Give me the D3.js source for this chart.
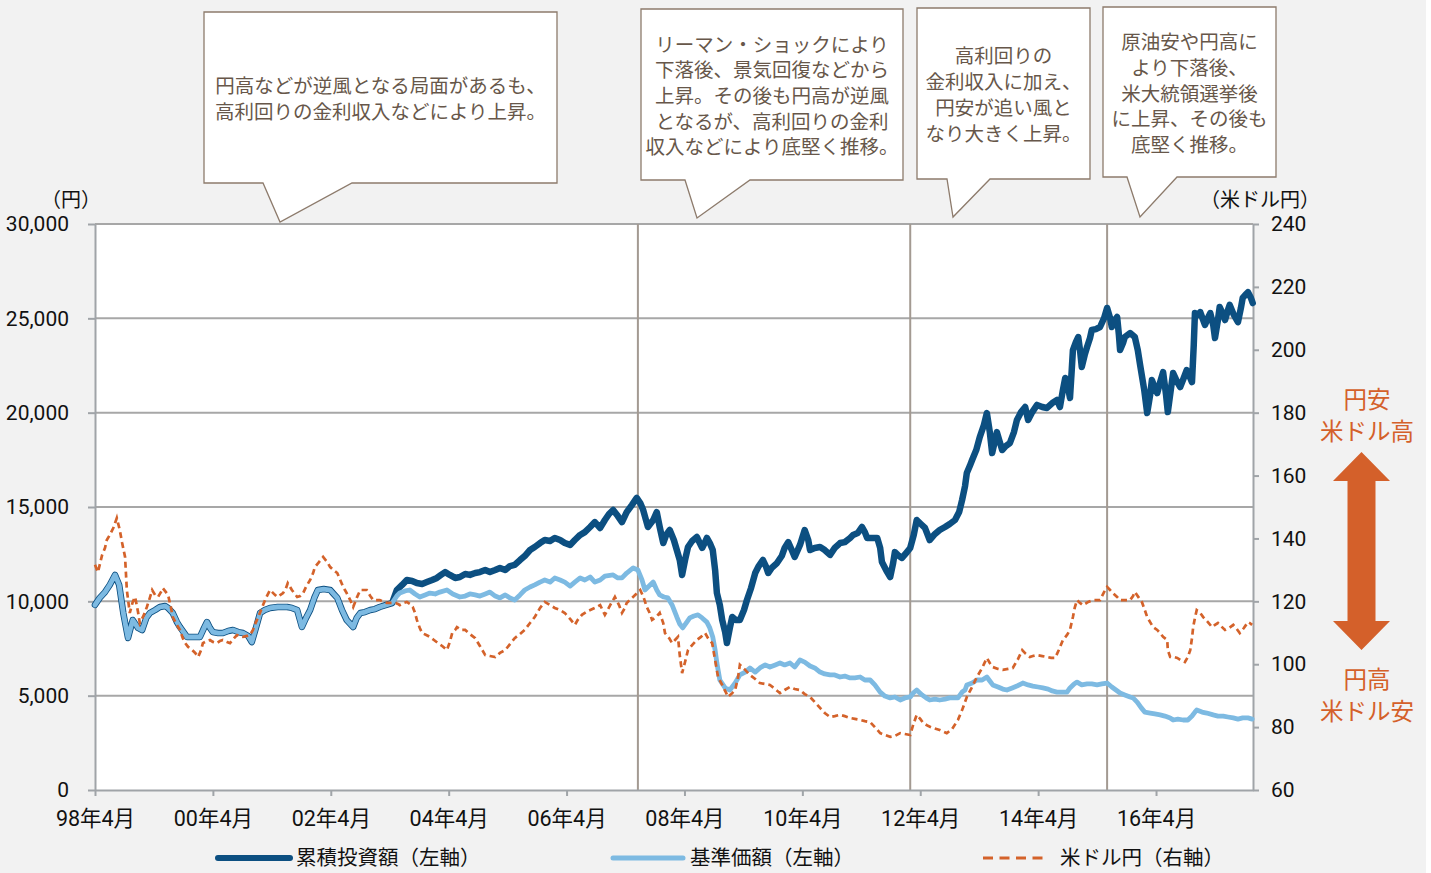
<!DOCTYPE html>
<html><head><meta charset="utf-8">
<script src="https://cdn.jsdelivr.net/npm/d3@7"></script>
<style>
html,body{margin:0;padding:0;background:#fff;}
svg{display:block;}
text{font-family:Roboto,"Noto Sans CJK JP",sans-serif;}
</style></head><body>
<svg id="chart" width="1431" height="873"></svg>
<script>
// ---------- DATA (time in decimal years, values in yen / yen per dollar) ----------
// 累積投資額 and 基準価額 coincide until 2003
const earlyShared = [[1998.25,9810],[1998.33,10180],[1998.42,10490],[1998.50,10870],[1998.59,11400],[1998.66,10870],[1998.73,9380],[1998.81,8060],[1998.89,9010],[1998.98,8590],[1999.05,8480],[1999.12,9120],[1999.18,9380],[1999.27,9540],[1999.35,9700],[1999.44,9750],[1999.49,9650],[1999.57,9380],[1999.64,8900],[1999.69,8640],[1999.81,8110],[1999.95,8110],[2000.03,8110],[2000.10,8590],[2000.15,8900],[2000.20,8590],[2000.25,8370],[2000.34,8320],[2000.42,8320],[2000.51,8430],[2000.59,8480],[2000.68,8370],[2000.76,8320],[2000.85,8160],[2000.91,7840],[2000.98,8590],[2001.05,9380],[2001.13,9540],[2001.22,9650],[2001.35,9700],[2001.51,9700],[2001.59,9650],[2001.68,9540],[2001.76,8640],[2001.83,9120],[2001.90,9540],[2001.97,10180],[2002.03,10600],[2002.13,10650],[2002.24,10600],[2002.30,10390],[2002.36,10180],[2002.44,9540],[2002.52,9010],[2002.63,8640],[2002.69,9120],[2002.75,9380],[2002.83,9430],[2002.92,9540],[2003.00,9590],[2003.08,9700],[2003.19,9810],[2003.29,9910]];

const cumulativeLater = [[2003.37,10600],[2003.46,10870],[2003.54,11130],[2003.63,11080],[2003.71,10970],[2003.80,10920],[2003.88,11020],[2003.97,11130],[2004.05,11240],[2004.12,11400],[2004.19,11550],[2004.27,11400],[2004.36,11240],[2004.44,11290],[2004.53,11450],[2004.61,11400],[2004.70,11500],[2004.78,11550],[2004.87,11660],[2004.95,11550],[2005.04,11660],[2005.12,11770],[2005.21,11660],[2005.29,11870],[2005.37,11930],[2005.46,12190],[2005.54,12400],[2005.63,12720],[2005.71,12880],[2005.80,13090],[2005.88,13250],[2005.97,13200],[2006.05,13360],[2006.14,13250],[2006.22,13090],[2006.31,12990],[2006.39,13250],[2006.48,13520],[2006.56,13670],[2006.65,13940],[2006.73,14200],[2006.82,13890],[2006.90,14310],[2006.97,14630],[2007.04,14840],[2007.12,14520],[2007.19,14200],[2007.27,14730],[2007.36,15110],[2007.44,15480],[2007.50,15210],[2007.55,14840],[2007.63,13940],[2007.72,14310],[2007.78,14730],[2007.83,13940],[2007.89,13090],[2007.94,13520],[2008.00,13780],[2008.07,13250],[2008.12,12720],[2008.17,12190],[2008.21,11400],[2008.26,12190],[2008.31,12880],[2008.38,13200],[2008.46,13410],[2008.55,12830],[2008.60,13140],[2008.63,13360],[2008.68,13090],[2008.73,12720],[2008.77,11660],[2008.80,10440],[2008.85,9810],[2008.89,9010],[2008.94,8370],[2008.97,7790],[2009.02,8590],[2009.06,9170],[2009.12,9010],[2009.19,9010],[2009.26,9540],[2009.31,10070],[2009.38,10710],[2009.45,11500],[2009.51,11870],[2009.58,12190],[2009.63,11870],[2009.67,11500],[2009.73,11770],[2009.82,12030],[2009.90,12400],[2009.95,12830],[2010.01,13140],[2010.07,12720],[2010.12,12350],[2010.21,12990],[2010.29,13780],[2010.35,13250],[2010.38,12720],[2010.46,12830],[2010.55,12880],[2010.63,12720],[2010.72,12460],[2010.80,12830],[2010.89,13090],[2010.97,13140],[2011.06,13360],[2011.11,13520],[2011.19,13620],[2011.26,13940],[2011.31,13670],[2011.35,13360],[2011.43,13360],[2011.52,13360],[2011.57,12830],[2011.60,12080],[2011.67,11660],[2011.74,11290],[2011.79,12030],[2011.82,12610],[2011.89,12400],[2011.94,12300],[2012.01,12560],[2012.08,12830],[2012.14,13520],[2012.19,14310],[2012.26,14100],[2012.33,13890],[2012.41,13250],[2012.50,13570],[2012.58,13780],[2012.67,13940],[2012.75,14100],[2012.84,14310],[2012.91,14730],[2012.96,15370],[2013.01,16110],[2013.04,16800],[2013.09,17170],[2013.13,17490],[2013.20,18020],[2013.26,18710],[2013.33,19350],[2013.38,19980],[2013.43,18970],[2013.47,17860],[2013.52,18550],[2013.55,18970],[2013.60,18440],[2013.64,18020],[2013.70,18230],[2013.77,18390],[2013.84,18970],[2013.89,19610],[2013.96,20030],[2014.03,20300],[2014.08,19610],[2014.15,20030],[2014.23,20410],[2014.32,20300],[2014.40,20250],[2014.49,20510],[2014.57,20670],[2014.62,20300],[2014.67,21200],[2014.71,21840],[2014.76,21310],[2014.79,20780],[2014.82,22260],[2014.84,23320],[2014.89,23740],[2014.93,24010],[2014.96,23320],[2014.99,22420],[2015.04,23060],[2015.08,23480],[2015.13,23960],[2015.16,24380],[2015.23,24430],[2015.30,24540],[2015.37,25020],[2015.42,25550],[2015.47,25020],[2015.50,24540],[2015.55,24910],[2015.59,25070],[2015.62,24120],[2015.64,23320],[2015.69,23690],[2015.72,24010],[2015.81,24220],[2015.89,24010],[2015.94,23320],[2015.98,22530],[2016.05,21200],[2016.10,19980],[2016.15,20940],[2016.18,21730],[2016.23,21310],[2016.27,21040],[2016.32,21620],[2016.37,22150],[2016.42,20940],[2016.45,20030],[2016.50,21200],[2016.54,22100],[2016.61,21620],[2016.66,21360],[2016.72,21840],[2016.77,22260],[2016.83,21840],[2016.86,21620],[2016.89,23590],[2016.91,25280],[2016.96,25180],[2017.00,25330],[2017.05,24910],[2017.08,24650],[2017.13,25020],[2017.17,25280],[2017.22,24650],[2017.25,23960],[2017.30,24910],[2017.33,25600],[2017.39,25180],[2017.42,24910],[2017.47,25440],[2017.50,25710],[2017.57,25180],[2017.64,24800],[2017.69,25550],[2017.72,26080],[2017.78,26290],[2017.81,26390],[2017.86,26080],[2017.89,25810]];

const navLater = [[2003.37,10280],[2003.42,10440],[2003.51,10550],[2003.59,10600],[2003.68,10390],[2003.76,10230],[2003.85,10340],[2003.93,10440],[2004.02,10390],[2004.10,10490],[2004.22,10600],[2004.32,10390],[2004.44,10230],[2004.53,10280],[2004.61,10390],[2004.70,10340],[2004.78,10280],[2004.87,10390],[2004.95,10490],[2005.04,10280],[2005.12,10180],[2005.21,10340],[2005.29,10180],[2005.37,10070],[2005.46,10340],[2005.54,10600],[2005.63,10760],[2005.71,10870],[2005.80,11020],[2005.88,11130],[2005.97,11020],[2006.05,11240],[2006.14,11130],[2006.22,11020],[2006.31,10810],[2006.39,11020],[2006.48,11240],[2006.56,11130],[2006.65,11290],[2006.73,11020],[2006.82,11130],[2006.90,11340],[2007.04,11400],[2007.12,11240],[2007.19,11240],[2007.27,11500],[2007.38,11770],[2007.46,11660],[2007.53,11130],[2007.58,10600],[2007.65,10810],[2007.72,11020],[2007.78,10600],[2007.83,10340],[2007.90,10230],[2007.97,10180],[2008.04,9810],[2008.12,9170],[2008.17,8800],[2008.22,8590],[2008.29,8900],[2008.34,9120],[2008.41,9220],[2008.48,9280],[2008.55,9120],[2008.63,8900],[2008.68,8590],[2008.73,8110],[2008.77,7420],[2008.80,6730],[2008.85,5830],[2008.94,5410],[2009.02,5300],[2009.11,5670],[2009.19,6100],[2009.28,6250],[2009.36,6470],[2009.45,6250],[2009.53,6470],[2009.62,6630],[2009.70,6520],[2009.79,6630],[2009.87,6730],[2009.95,6630],[2010.04,6730],[2010.12,6520],[2010.21,6890],[2010.29,6780],[2010.38,6570],[2010.46,6470],[2010.55,6250],[2010.63,6150],[2010.72,6100],[2010.80,6100],[2010.89,5990],[2010.97,6040],[2011.06,5940],[2011.14,5940],[2011.23,5990],[2011.31,5830],[2011.40,5830],[2011.48,5570],[2011.57,5190],[2011.65,4980],[2011.74,4880],[2011.82,4930],[2011.91,4770],[2011.99,4880],[2012.08,4930],[2012.13,5140],[2012.19,5300],[2012.28,5040],[2012.35,4880],[2012.41,4770],[2012.50,4820],[2012.58,4770],[2012.67,4820],[2012.75,4880],[2012.84,4880],[2012.89,4880],[2012.96,5190],[2013.01,5300],[2013.04,5570],[2013.13,5670],[2013.21,5830],[2013.30,5830],[2013.38,5990],[2013.43,5780],[2013.48,5570],[2013.57,5460],[2013.65,5350],[2013.72,5300],[2013.81,5410],[2013.89,5510],[2013.99,5670],[2014.08,5570],[2014.16,5510],[2014.25,5460],[2014.33,5410],[2014.42,5350],[2014.49,5250],[2014.57,5190],[2014.65,5190],[2014.74,5190],[2014.79,5410],[2014.86,5620],[2014.91,5720],[2014.99,5570],[2015.08,5620],[2015.16,5620],[2015.25,5570],[2015.33,5620],[2015.42,5670],[2015.50,5460],[2015.57,5300],[2015.64,5140],[2015.72,5040],[2015.81,4930],[2015.86,4880],[2015.93,4660],[2016.00,4350],[2016.06,4130],[2016.15,4080],[2016.23,4030],[2016.32,3980],[2016.40,3920],[2016.49,3820],[2016.54,3710],[2016.62,3760],[2016.71,3710],[2016.79,3710],[2016.86,3920],[2016.91,4130],[2016.94,4240],[2017.03,4130],[2017.11,4080],[2017.22,3980],[2017.30,3920],[2017.39,3920],[2017.47,3870],[2017.56,3820],[2017.64,3760],[2017.72,3820],[2017.81,3820],[2017.88,3760]];

const usdjpy = [[1998.25,131.6],[1998.30,129.3],[1998.37,134.7],[1998.42,137.0],[1998.45,139.5],[1998.50,141.1],[1998.56,143.3],[1998.62,146.5],[1998.67,142.7],[1998.71,138.6],[1998.76,134.1],[1998.79,123.6],[1998.84,116.3],[1998.89,119.8],[1998.93,121.4],[1998.98,116.6],[1999.01,113.1],[1999.08,115.7],[1999.13,118.2],[1999.18,121.1],[1999.22,123.6],[1999.27,122.0],[1999.32,121.4],[1999.37,123.0],[1999.40,124.2],[1999.45,123.0],[1999.49,122.0],[1999.54,117.9],[1999.57,115.0],[1999.64,112.5],[1999.69,110.9],[1999.74,108.3],[1999.78,106.7],[1999.83,105.5],[1999.90,104.5],[1999.95,103.6],[2000.00,102.3],[2000.05,104.5],[2000.08,106.7],[2000.15,107.4],[2000.20,107.7],[2000.25,107.1],[2000.32,106.7],[2000.37,107.4],[2000.42,107.7],[2000.49,107.1],[2000.54,106.7],[2000.61,108.3],[2000.66,109.3],[2000.71,109.0],[2000.76,108.7],[2000.83,109.0],[2000.88,109.3],[2000.93,110.9],[2000.96,112.5],[2001.02,115.0],[2001.08,117.9],[2001.15,121.1],[2001.22,123.6],[2001.29,122.3],[2001.34,121.4],[2001.39,122.0],[2001.44,122.6],[2001.49,124.2],[2001.52,125.8],[2001.59,123.6],[2001.68,121.4],[2001.73,121.7],[2001.78,122.6],[2001.83,124.6],[2001.90,126.8],[2001.95,129.0],[2001.98,130.9],[2002.05,132.5],[2002.12,134.1],[2002.19,132.5],[2002.24,130.9],[2002.29,130.0],[2002.36,129.0],[2002.41,126.8],[2002.46,124.6],[2002.49,123.6],[2002.52,122.6],[2002.58,120.4],[2002.63,118.2],[2002.69,121.1],[2002.75,123.6],[2002.81,123.6],[2002.86,123.6],[2002.92,121.7],[2002.97,120.4],[2003.03,120.4],[2003.08,120.4],[2003.15,119.8],[2003.20,119.5],[2003.27,119.5],[2003.34,119.5],[2003.39,119.2],[2003.42,118.8],[2003.49,119.5],[2003.54,119.8],[2003.59,119.2],[2003.64,118.2],[2003.68,116.3],[2003.71,114.1],[2003.76,111.5],[2003.80,109.9],[2003.87,109.3],[2003.93,108.7],[2004.00,107.7],[2004.07,106.7],[2004.14,105.8],[2004.22,104.5],[2004.27,107.1],[2004.31,109.9],[2004.36,110.9],[2004.39,111.8],[2004.46,110.9],[2004.53,110.9],[2004.61,109.6],[2004.70,108.3],[2004.78,105.8],[2004.87,102.9],[2004.95,102.6],[2005.04,102.3],[2005.12,103.6],[2005.21,104.5],[2005.29,106.4],[2005.37,108.3],[2005.46,109.6],[2005.54,110.9],[2005.63,113.1],[2005.71,115.0],[2005.80,117.9],[2005.88,119.8],[2005.97,118.8],[2006.05,117.9],[2006.14,117.2],[2006.22,116.3],[2006.31,114.4],[2006.39,112.5],[2006.44,114.1],[2006.51,115.7],[2006.61,116.9],[2006.73,117.9],[2006.82,118.8],[2006.90,115.7],[2006.99,118.8],[2007.07,121.4],[2007.14,118.8],[2007.19,116.3],[2007.24,117.9],[2007.27,119.5],[2007.36,121.1],[2007.43,122.3],[2007.50,123.6],[2007.56,121.1],[2007.61,118.2],[2007.66,116.3],[2007.70,114.1],[2007.77,115.0],[2007.83,116.3],[2007.89,113.1],[2007.92,109.9],[2007.99,108.3],[2008.04,106.7],[2008.09,107.7],[2008.14,108.7],[2008.17,102.9],[2008.21,97.2],[2008.26,100.7],[2008.31,104.5],[2008.38,106.1],[2008.46,107.7],[2008.53,108.7],[2008.60,109.9],[2008.65,108.3],[2008.72,106.7],[2008.77,101.3],[2008.82,95.9],[2008.89,93.4],[2008.94,91.5],[2008.99,89.6],[2009.06,90.8],[2009.11,91.8],[2009.16,95.9],[2009.19,99.8],[2009.28,98.2],[2009.36,96.6],[2009.45,95.3],[2009.53,94.0],[2009.62,93.7],[2009.70,93.4],[2009.79,92.1],[2009.87,90.8],[2009.95,91.8],[2010.04,92.8],[2010.12,92.1],[2010.21,91.8],[2010.29,90.5],[2010.38,89.6],[2010.46,88.0],[2010.55,86.1],[2010.63,84.5],[2010.72,83.2],[2010.80,83.5],[2010.89,83.9],[2010.97,83.5],[2011.06,82.9],[2011.14,82.6],[2011.23,82.3],[2011.31,81.9],[2011.40,81.6],[2011.48,80.0],[2011.57,78.1],[2011.65,77.5],[2011.74,76.9],[2011.82,77.2],[2011.91,78.1],[2011.99,77.8],[2012.08,77.5],[2012.13,80.7],[2012.19,83.9],[2012.25,82.6],[2012.30,81.3],[2012.38,80.4],[2012.47,79.7],[2012.58,79.1],[2012.70,78.1],[2012.79,79.4],[2012.89,82.3],[2012.96,85.4],[2013.04,89.6],[2013.13,92.8],[2013.21,95.9],[2013.30,98.8],[2013.38,102.0],[2013.43,100.4],[2013.48,99.1],[2013.57,98.5],[2013.65,98.2],[2013.74,98.5],[2013.82,98.8],[2013.91,101.7],[2013.98,104.5],[2014.04,103.3],[2014.11,102.3],[2014.16,102.6],[2014.23,102.9],[2014.32,102.6],[2014.40,102.3],[2014.47,102.0],[2014.54,102.0],[2014.60,104.5],[2014.67,107.7],[2014.74,109.3],[2014.79,110.9],[2014.82,113.4],[2014.84,115.0],[2014.87,117.9],[2014.91,120.4],[2014.96,119.5],[2015.01,118.8],[2015.10,119.8],[2015.18,120.4],[2015.25,120.4],[2015.30,120.4],[2015.37,123.0],[2015.42,124.6],[2015.47,123.6],[2015.52,122.6],[2015.59,121.4],[2015.64,120.4],[2015.72,120.4],[2015.81,120.4],[2015.86,121.7],[2015.89,123.0],[2015.96,121.1],[2016.01,119.8],[2016.06,117.2],[2016.10,115.0],[2016.15,113.4],[2016.20,111.8],[2016.27,110.9],[2016.32,109.9],[2016.37,108.7],[2016.44,107.7],[2016.45,104.5],[2016.49,102.3],[2016.55,102.3],[2016.61,102.0],[2016.67,101.3],[2016.74,100.7],[2016.79,102.3],[2016.83,104.5],[2016.86,108.3],[2016.88,111.8],[2016.91,114.7],[2016.94,117.2],[2017.00,116.3],[2017.05,115.0],[2017.13,113.4],[2017.20,111.8],[2017.25,112.5],[2017.30,113.1],[2017.37,111.8],[2017.42,110.9],[2017.49,111.5],[2017.56,112.5],[2017.62,111.2],[2017.67,109.9],[2017.74,111.5],[2017.81,113.4],[2017.84,113.1],[2017.88,112.5]];

const leftTicks = [0, 5000, 10000, 15000, 20000, 25000, 30000];
const rightTicks = [60, 80, 100, 120, 140, 160, 180, 200, 220, 240];
const xTickDates = [1998.25, 2000.25, 2002.25, 2004.25, 2006.25, 2008.25, 2010.25, 2012.25, 2014.25, 2016.25];
const xTickLabels = ["98年4月","00年4月","02年4月","04年4月","06年4月","08年4月","10年4月","12年4月","14年4月","16年4月"];
const markerDates = [2007.46, 2012.08, 2015.42];
const legendLabels = ["累積投資額（左軸）", "基準価額（左軸）", "米ドル円（右軸）"];
const calloutTexts = [
  ["円高などが逆風となる局面があるも、", "高利回りの金利収入などにより上昇。"],
  ["リーマン・ショックにより", "下落後、景気回復などから", "上昇。その後も円高が逆風", "となるが、高利回りの金利", "収入などにより底堅く推移。"],
  ["高利回りの", "金利収入に加え、", "円安が追い風と", "なり大きく上昇。"],
  ["原油安や円高に", "より下落後、", "米大統領選挙後", "に上昇、その後も", "底堅く推移。"]
];
const leftUnit = "（円）";
const rightUnit = "（米ドル円）";
const arrowTopLabels = ["円安", "米ドル高"];
const arrowBottomLabels = ["円高", "米ドル安"];

// ---------- DRAWING ----------
const cumulative = earlyShared.concat(cumulativeLater);
const nav = earlyShared.concat(navLater);

const W = 1431, H = 873;
const M = {left: 95, right: 1253, top: 224, bottom: 790};
const x = d3.scaleLinear().domain([1998.25, 2017.895]).range([M.left, M.right]);
const yL = d3.scaleLinear().domain([0, 30000]).range([M.bottom, M.top]);
const yR = d3.scaleLinear().domain([60, 240]).range([M.bottom, M.top]);

const svg = d3.select('#chart');
const AXIS = '#a0a4a8', GRID = '#a7a7a7';
const C_CUM = '#0c4f81', C_NAV = '#7dbae2', C_FX = '#d4622a', C_ANN = '#d4602a';
const FONT = 'Roboto, "Noto Sans CJK JP", sans-serif';

svg.append('rect').attr('x', 0).attr('y', 0).attr('width', 1426).attr('height', H).attr('fill', '#f2f2f2');
svg.append('rect').attr('x', M.left).attr('y', M.top).attr('width', M.right - M.left).attr('height', M.bottom - M.top).attr('fill', '#ffffff');

// horizontal gridlines
svg.append('g').selectAll('line').data(leftTicks.filter(d => d > 0)).join('line')
  .attr('x1', M.left).attr('x2', M.right)
  .attr('y1', d => yL(d)).attr('y2', d => yL(d))
  .attr('stroke', GRID).attr('stroke-width', 2);

// vertical event markers
svg.append('g').selectAll('line').data(markerDates).join('line')
  .attr('x1', d => x(d)).attr('x2', d => x(d))
  .attr('y1', M.top).attr('y2', M.bottom)
  .attr('stroke', '#a39a92').attr('stroke-width', 2);

function styleAxis(g, size) {
  g.selectAll('.domain').attr('stroke', AXIS).attr('stroke-width', 2);
  g.selectAll('.tick line').attr('stroke', AXIS).attr('stroke-width', 2);
  g.selectAll('.tick text').attr('fill', '#111').style('font-size', size + 'px').style('font-family', FONT);
}

const gL = svg.append('g').attr('transform', `translate(${M.left},0)`)
  .call(d3.axisLeft(yL).tickValues(leftTicks).tickSize(7).tickSizeOuter(0).tickPadding(19).tickFormat(d3.format(',')));
styleAxis(gL, 21);

const gR = svg.append('g').attr('transform', `translate(${M.right},0)`)
  .call(d3.axisRight(yR).tickValues(rightTicks).tickSize(6).tickSizeOuter(0).tickPadding(12).tickFormat(d3.format('d')));
styleAxis(gR, 21);

const gB = svg.append('g').attr('transform', `translate(0,${M.bottom})`)
  .call(d3.axisBottom(x).tickValues(xTickDates).tickSize(6).tickSizeOuter(0).tickPadding(15).tickFormat((d, i) => xTickLabels[i]));
styleAxis(gB, 21.5);

// axis unit labels
svg.append('text').attr('x', 71).attr('y', 200).attr('text-anchor', 'middle').attr('dominant-baseline', 'central')
  .style('font-size', '20px').style('font-family', FONT).attr('fill', '#111').text(leftUnit);
svg.append('text').attr('x', 1260).attr('y', 200).attr('text-anchor', 'middle').attr('dominant-baseline', 'central')
  .style('font-size', '20px').style('font-family', FONT).attr('fill', '#111').text(rightUnit);

// series lines
const lineL = d3.line().x(d => x(d[0])).y(d => yL(d[1]));
const lineR = d3.line().x(d => x(d[0])).y(d => yR(d[1]));
svg.append('path').datum(cumulative).attr('d', lineL).attr('fill', 'none')
  .attr('stroke', C_CUM).attr('stroke-width', 6.5).attr('stroke-linejoin', 'round').attr('stroke-linecap', 'round');
svg.append('path').datum(nav).attr('d', lineL).attr('fill', 'none')
  .attr('stroke', C_NAV).attr('stroke-width', 4.8).attr('stroke-linejoin', 'round').attr('stroke-linecap', 'round');
svg.append('path').datum(usdjpy).attr('d', lineR).attr('fill', 'none')
  .attr('stroke', C_FX).attr('stroke-width', 2.7).attr('stroke-dasharray', '6,4');

// callouts
const boxes = [
  {x0: 204, y0: 12, x1: 557, y1: 183, tl: 263, tr: 352, tx: 280, ty: 222},
  {x0: 641, y0: 9, x1: 903, y1: 180, tl: 685, tr: 750, tx: 697, ty: 218},
  {x0: 917, y0: 8, x1: 1090, y1: 179, tl: 947, tr: 990, tx: 953, ty: 217},
  {x0: 1103, y0: 7, x1: 1276, y1: 177, tl: 1127, tr: 1177, tx: 1140, ty: 217}
];
const lh = 25.7;
boxes.forEach((b, i) => {
  svg.append('path')
    .attr('d', `M${b.x0},${b.y0}H${b.x1}V${b.y1}H${b.tr}L${b.tx},${b.ty}L${b.tl},${b.y1}H${b.x0}Z`)
    .attr('fill', '#ffffff').attr('stroke', '#8d7b6c').attr('stroke-width', 1.3);
  const lines = calloutTexts[i];
  const cx = (b.x0 + b.x1) / 2, cy = (b.y0 + b.y1) / 2 + 2;
  svg.append('g').selectAll('text').data(lines).join('text')
    .attr('x', cx).attr('y', (d, j) => cy - (lines.length - 1) / 2 * lh + j * lh)
    .attr('text-anchor', 'middle').attr('dominant-baseline', 'central')
    .style('font-family', FONT).style('font-size', '19.5px')
    .attr('fill', '#67574a').text(d => d);
});

// yen arrow annotation
const ax = 1361.5;
svg.append('path')
  .attr('d', `M${ax},452L${ax + 28.5},481H${ax + 14}V621H${ax + 28.5}L${ax},650L${ax - 28.5},621H${ax - 14}V481H${ax - 28.5}Z`)
  .attr('fill', C_ANN);
svg.append('g').selectAll('text').data(arrowTopLabels.map((t, i) => ({t, y: 400 + i * 31.5}))
  .concat(arrowBottomLabels.map((t, i) => ({t, y: 680 + i * 31.5})))).join('text')
  .attr('x', 1367).attr('y', d => d.y).attr('text-anchor', 'middle').attr('dominant-baseline', 'central')
  .style('font-family', FONT).style('font-size', '23.5px')
  .attr('fill', C_ANN).text(d => d.t);

// legend
const legend = [
  {x1: 218, x2: 290, tx: 296, color: C_CUM, w: 6, dash: null},
  {x1: 613, x2: 683, tx: 690, color: C_NAV, w: 5, dash: null},
  {x1: 983, x2: 1047, tx: 1060, color: C_FX, w: 3, dash: '10,6.5'}
];
const ly = 858;
legend.forEach((l, i) => {
  svg.append('line').attr('x1', l.x1).attr('x2', l.x2).attr('y1', ly).attr('y2', ly)
    .attr('stroke', l.color).attr('stroke-width', l.w).attr('stroke-linecap', l.dash ? 'butt' : 'round')
    .attr('stroke-dasharray', l.dash);
  svg.append('text').attr('x', l.tx).attr('y', ly).attr('dominant-baseline', 'central')
    .style('font-family', FONT).style('font-size', '20.5px')
    .attr('fill', '#111').text(legendLabels[i]);
});
</script>
</body></html>
